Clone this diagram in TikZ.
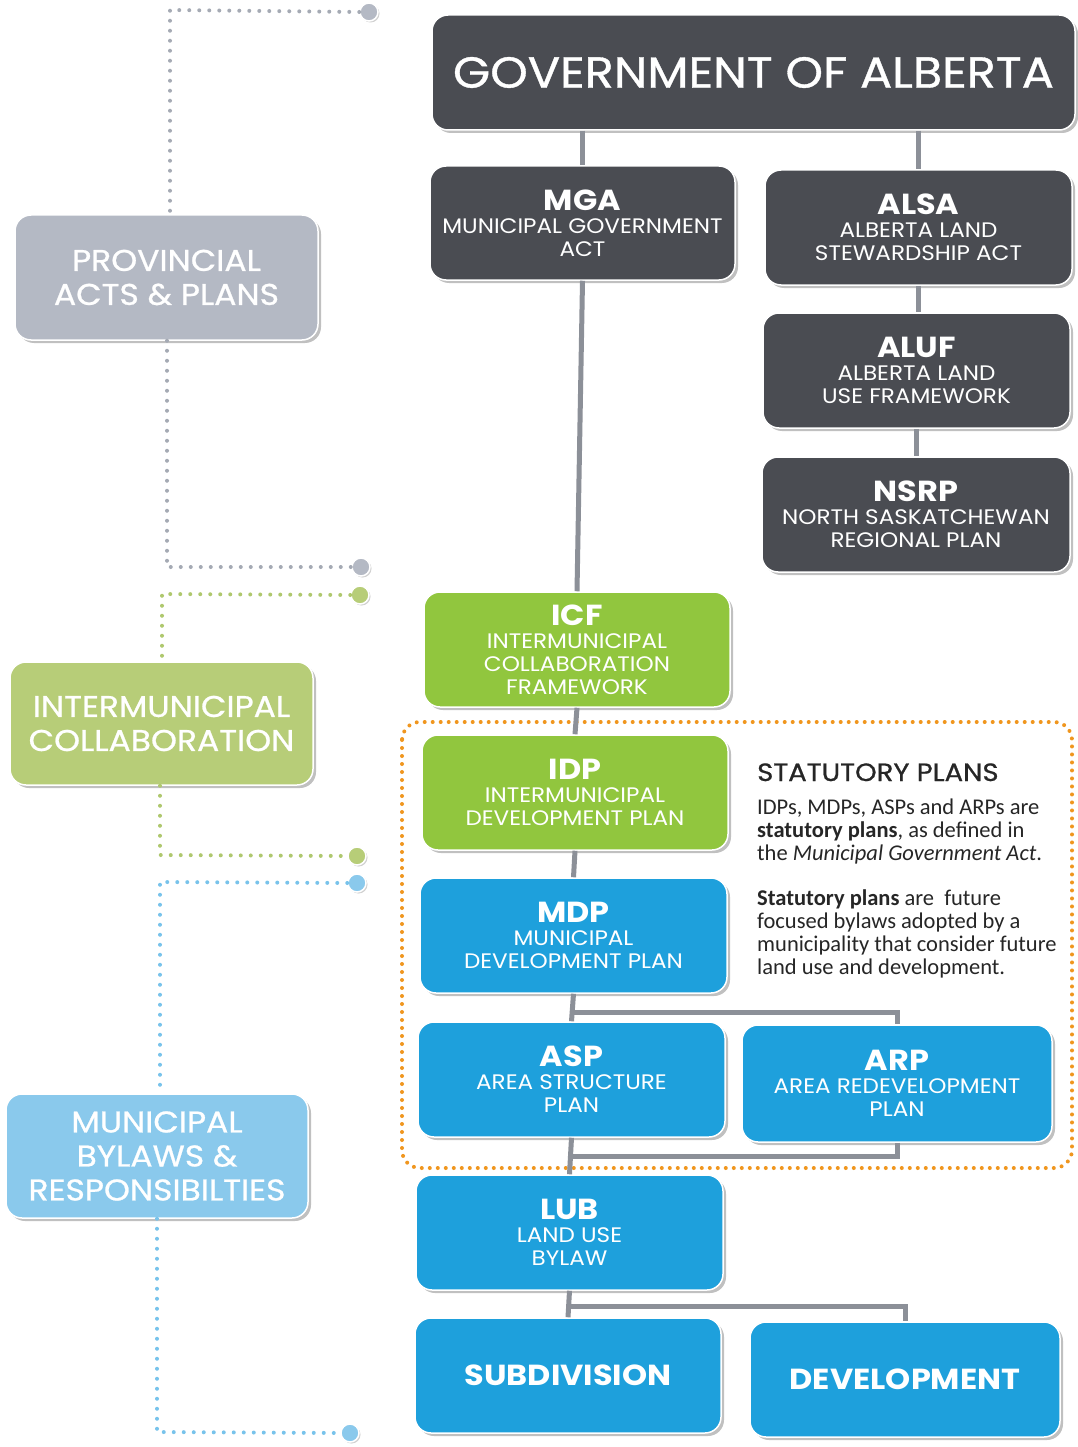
\documentclass[tikz,border=0pt]{standalone}
\usepackage{fontspec}
\setmainfont{Poppins}[FakeStretch=1.1]
\newfontfamily\medfont{Poppins}[FakeStretch=1.1, FakeBold=0.8]
\newfontfamily\carl{Carlito}
\usetikzlibrary{shadows}
\definecolor{darkbox}{RGB}{74,76,82}
\definecolor{greenbox}{RGB}{145,198,62}
\definecolor{bluebox}{RGB}{30,160,220}
\definecolor{lgray}{RGB}{180,185,196}
\definecolor{lgreen}{RGB}{183,205,120}
\definecolor{lblue}{RGB}{138,201,236}
\definecolor{conngray}{RGB}{140,144,152}
\definecolor{orangedot}{RGB}{240,150,30}
\definecolor{dotgray}{RGB}{165,170,180}
\definecolor{dotgreen}{RGB}{175,200,110}
\definecolor{dotblue}{RGB}{120,195,235}
\tikzset{
  box/.style={rounded corners=16pt, draw=white, line width=1.5pt, text=white, align=center,
    inner sep=0pt, font=\fontsize{21}{23}\selectfont,
    drop shadow={shadow xshift=3pt, shadow yshift=-3pt, opacity=0.35, fill=black!70}},
  darkb/.style={box, fill=darkbox},
  greenb/.style={box, fill=greenbox},
  blueb/.style={box, fill=bluebox},
  sideb/.style={box, font=\medfont\fontsize{30}{34}\selectfont},
  conn/.style={draw=conngray, line width=5pt},
  dotline/.style={line width=4pt, line cap=round, dash pattern=on 0pt off 10pt},
  endcirc/.style={circle, minimum size=18pt, inner sep=0pt, draw=white, line width=1.5pt,
    drop shadow={shadow xshift=1.5pt, shadow yshift=-1.5pt, opacity=0.3, fill=black!60}},
  stattext/.style={anchor=base west, inner sep=0pt, font=\carl\fontsize{22.5}{23}\selectfont, text=black!85},
}
\newcommand{\ttl}[1]{{\bfseries\fontsize{29}{30}\selectfont #1}}
\begin{document}
\begin{tikzpicture}[x=1pt, y=-1pt]
\useasboundingbox[fill=white] (0,0) rectangle (1077,1447);

% orange statutory frame
\draw[orangedot, line width=4pt, line cap=round, dash pattern=on 0pt off 8pt, rounded corners=18pt]
  (402,722) rectangle (1072,1168);

% right column boxes
\node[darkb, minimum width=643pt, minimum height=115pt] (gov) at (753.5,72.5)
  {\medfont\fontsize{43.5}{45}\selectfont GOVERNMENT OF ALBERTA};
\node[darkb, minimum width=305pt, minimum height=114pt] (mga) at (582.5,223)
  {\ttl{MGA}\\MUNICIPAL GOVERNMENT\\ACT};
\node[darkb, minimum width=307pt, minimum height=115pt] (alsa) at (918.5,227.5)
  {\ttl{ALSA}\\ALBERTA LAND\\STEWARDSHIP ACT};
\node[darkb, minimum width=307pt, minimum height=115pt] (aluf) at (916.5,370.5)
  {\ttl{ALUF}\\ALBERTA LAND\\USE FRAMEWORK};
\node[darkb, minimum width=308pt, minimum height=115pt] (nsrp) at (916,514.5)
  {\ttl{NSRP}\\NORTH SASKATCHEWAN\\REGIONAL PLAN};
\node[greenb, minimum width=306pt, minimum height=115pt] (icf) at (577,649.5)
  {\ttl{ICF}\\INTERMUNICIPAL\\COLLABORATION\\FRAMEWORK};
\node[greenb, minimum width=306pt, minimum height=115pt] (idp) at (575,792.5)
  {\ttl{IDP}\\INTERMUNICIPAL\\DEVELOPMENT PLAN};
\node[blueb, minimum width=307pt, minimum height=115pt] (mdp) at (573.5,935.5)
  {\ttl{MDP}\\MUNICIPAL\\DEVELOPMENT PLAN};
\node[blueb, minimum width=307pt, minimum height=115pt] (asp) at (571.5,1079.5)
  {\ttl{ASP}\\AREA STRUCTURE\\PLAN};
\node[blueb, minimum width=310pt, minimum height=117pt] (arp) at (897,1083.5)
  {\ttl{ARP}\\AREA REDEVELOPMENT\\PLAN};
\node[blueb, minimum width=307pt, minimum height=115pt] (lub) at (569.5,1232.5)
  {\ttl{LUB}\\LAND USE\\BYLAW};
\node[blueb, minimum width=306pt, minimum height=115pt] (sub) at (568,1375.5)
  {\ttl{SUBDIVISION}};
\node[blueb, minimum width=310pt, minimum height=115pt] (dev) at (905,1379.5)
  {\ttl{DEVELOPMENT}};

% connectors
\draw[conn] (gov.south -| mga.north) -- (mga.north);
\draw[conn] (gov.south -| alsa.north) -- (alsa.north);
\draw[conn] (alsa.south) -- (alsa.south |- aluf.north);
\draw[conn] (aluf.south) -- (aluf.south |- nsrp.north);
\draw[conn] (mga.south) -- (icf.north);
\draw[conn] (icf.south) -- (idp.north);
\draw[conn] (idp.south) -- (mdp.north);
\draw[conn] (mdp.south) -- (asp.north);
\coordinate (br1) at (572,1012);
\draw[conn] (br1) -| (arp.north);
\draw[conn] (asp.south) -- (lub.north);
\coordinate (br2) at (570,1156);
\draw[conn] (arp.south) |- (br2);
\draw[conn] (lub.south) -- (sub.north);
\coordinate (br3) at (568,1306);
\draw[conn] (br3) -| (dev.north);

% statutory plans text
\node[anchor=base west, inner sep=0pt, font=\medfont\fontsize{25}{26}\selectfont, text=black!85] (sthead) at (757,781) {STATUTORY PLANS};
\node[stattext] (s1) at (757,814) {IDPs, MDPs, ASPs and ARPs are};
\node[stattext] (s2) at (757,837) {\textbf{statutory plans}, as defined in};
\node[stattext] (s3) at (757,860) {the \textit{Municipal Government Act}.};
\node[stattext] (s4) at (757,905) {\textbf{Statutory plans} are\ \ future};
\node[stattext] (s5) at (757,928) {focused bylaws adopted by a};
\node[stattext] (s6) at (757,951) {municipality that consider future};
\node[stattext] (s7) at (757,974) {land use and development.};

% left side boxes
\node[sideb, fill=lgray, minimum width=303pt, minimum height=125pt] (prov) at (166.5,277.5)
  {PROVINCIAL\\ACTS \& PLANS};
\node[sideb, fill=lgreen, minimum width=303pt, minimum height=123pt] (inter) at (161.5,723.5)
  {INTERMUNICIPAL\\COLLABORATION};
\node[sideb, fill=lblue, minimum width=302pt, minimum height=124pt] (muni) at (157,1156)
  {MUNICIPAL\\BYLAWS \&\\RESPONSIBILTIES};

% dotted brackets and end circles
\node[endcirc, fill=lgray] (g1) at (369,12) {};
\node[endcirc, fill=lgray] (g2) at (361,567) {};
\node[endcirc, fill=lgreen] (e1) at (360,595) {};
\node[endcirc, fill=lgreen] (e2) at (357,856) {};
\node[endcirc, fill=lblue] (b1) at (357,883) {};
\node[endcirc, fill=lblue] (b2) at (350,1433) {};
\coordinate (cg1) at (170,10);
\coordinate (cg2) at (167,567);
\coordinate (ce1) at (162,594);
\coordinate (ce2) at (160,855);
\coordinate (cb1) at (160,882);
\coordinate (cb2) at (157,1432);
\draw[dotline, dotgray] (g1.west) -- (cg1) -- (cg1 |- prov.north);
\draw[dotline, dotgray] (cg2 |- prov.south) -- (cg2) -- (g2.west);
\draw[dotline, dotgreen] (e1.west) -- (ce1) -- (ce1 |- inter.north);
\draw[dotline, dotgreen] (ce2 |- inter.south) -- (ce2) -- (e2.west);
\draw[dotline, dotblue] (b1.west) -- (cb1) -- (cb1 |- muni.north);
\draw[dotline, dotblue] (cb2 |- muni.south) -- (cb2) -- (b2.west);
\end{tikzpicture}
\end{document}
